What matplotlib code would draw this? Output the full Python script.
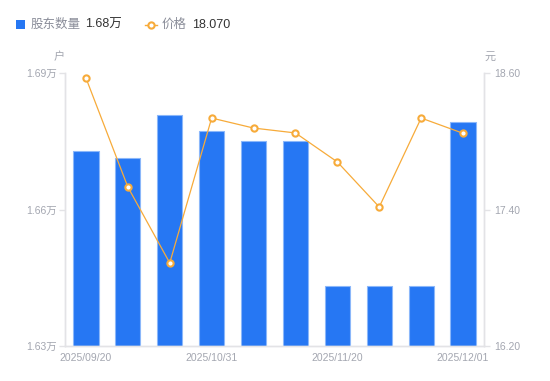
import matplotlib
matplotlib.use("Agg")
import matplotlib.pyplot as plt
from matplotlib.lines import Line2D
from matplotlib.patches import Rectangle

plt.rcParams['font.family'] = ['Liberation Sans', 'Noto Sans CJK SC', 'DejaVu Sans']

dates = ["2025/09/20", "2025/09/30", "2025/10/20", "2025/10/31", "2025/11/07",
         "2025/11/14", "2025/11/20", "2025/11/25", "2025/11/28", "2025/12/01"]
holders = [16729, 16713, 16808, 16773, 16751, 16751, 16432, 16432, 16432, 16792]
price = [18.556, 17.598, 16.930, 18.204, 18.116, 18.073, 17.818, 17.422, 18.204, 18.070]
left_ticks = [16300, 16600, 16900]
right_ticks = [16.20, 17.40, 18.60]
shown_dates = ["2025/09/20", "2025/10/31", "2025/11/20", "2025/12/01"]

W, H = 550, 381
fig = plt.figure(figsize=(W / 100, H / 100), dpi=100)
ax = fig.add_axes([65 / W, 1 - 346 / H, (484 - 65) / W, (346 - 73) / H])
ax2 = ax.twinx()

gray = '#a3a6b0'
axcol = '#e3e3e6'
blue = '#2677f3'
orange = '#f7ab3a'

x = list(range(len(dates)))
ax.bar(x, holders, width=0.6, color=blue, edgecolor='#8bb7fa', linewidth=0.8, zorder=2)
ax.set_xlim(-0.5, len(dates) - 0.5)
ax.set_ylim(left_ticks[0], left_ticks[-1])
ax.set_yticks(left_ticks)
ax.set_yticklabels([f"{v/10000:.2f}万" for v in left_ticks])

ax2.plot(x, price, color=orange, lw=0.9, marker='o', markersize=4.5,
         markerfacecolor='white', markeredgecolor=orange, markeredgewidth=1.5, zorder=3)
ax2.set_ylim(right_ticks[0], right_ticks[-1])
ax2.set_yticks(right_ticks)
ax2.set_yticklabels([f"{v:.2f}" for v in right_ticks])

ax.set_xticks([dates.index(d) for d in shown_dates])
ax.set_xticklabels(shown_dates)

for a in (ax, ax2):
    for s in a.spines.values():
        s.set_color(axcol)
        s.set_linewidth(1)
    a.spines['top'].set_visible(False)
    a.tick_params(colors=axcol, labelcolor=gray, labelsize=7.5, length=4, width=1)
ax.tick_params(axis='x', length=0, pad=5)
ax.tick_params(axis='y', pad=2)
ax2.tick_params(axis='y', pad=3)
ax2.set_zorder(ax.get_zorder() + 1)
ax2.patch.set_visible(False)

fig.text(59 / W, 1 - 57 / H, "户", ha='center', va='center', color=gray, fontsize=8)
fig.text(490 / W, 1 - 57 / H, "元", ha='center', va='center', color=gray, fontsize=8)

# legend
ly = 1 - 24.5 / H
fig.patches.append(Rectangle((16 / W, 1 - 29 / H), 9 / W, 9 / H, transform=fig.transFigure,
                             facecolor=blue, edgecolor='none'))
fig.text(31 / W, ly, "股东数量", ha='left', va='center', color='#8a8d99', fontsize=9)
fig.text(85 / W, ly, "1.68万", ha='left', va='center', color='#333333', fontsize=9)
fig.lines.append(Line2D([145 / W, 157 / W], [ly, ly], transform=fig.transFigure,
                        color=orange, lw=1))
fig.lines.append(Line2D([151 / W], [ly], transform=fig.transFigure, color=orange,
                        marker='o', markersize=4.5, markerfacecolor='white',
                        markeredgecolor=orange, markeredgewidth=1.5))
fig.text(162 / W, ly, "价格", ha='left', va='center', color='#8a8d99', fontsize=9)
fig.text(192 / W, ly, "18.070", ha='left', va='center', color='#333333', fontsize=9)

fig.savefig("out.png", dpi=100)
